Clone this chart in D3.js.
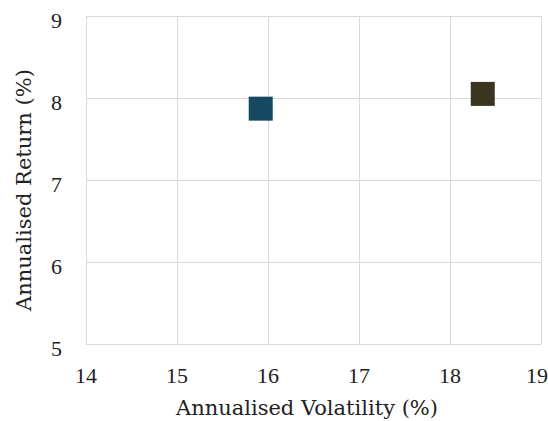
<!DOCTYPE html>
<html lang="en">
<head>
<meta charset="utf-8">
<script src="https://cdn.jsdelivr.net/npm/d3@7"></script>
<style>
  body { margin: 0; background: #fff; }
  .grid line { stroke: #d9d9d9; stroke-width: 1; }
  .grid path { display: none; }
  .lbl { font-family: "DejaVu Serif", serif; fill: #222; }
  .tick-lbl { font-family: "Liberation Serif", serif; fill: #222; font-size: 22px; }
</style>
</head>
<body>
<div id="chart"></div>
<script>
  // data
  const names = ['Fund A', 'Fund B']
  const volatility = [15.92, 18.36]
  const returns = [7.87, 8.05]
  const colours = ['#174a62', '#3a3420']
  const xTicks = [14, 15, 16, 17, 18, 19]
  const yTicks = [5, 6, 7, 8, 9]

  const w = 548, h = 421
  const padL = 86, padR = 541, padT = 16, padB = 344

  const svg = d3.select('#chart').append('svg')
      .attr('width', w)
      .attr('height', h)

  const x = d3.scaleLinear().domain([14, 19]).range([padL, padR])
  const y = d3.scaleLinear().domain([5, 9]).range([padB, padT])

  // gridlines
  svg.append('g')
      .attr('class', 'grid')
      .attr('transform', 'translate(0,' + padB + ')')
      .call(d3.axisBottom(x).tickValues(xTicks).tickSize(-(padB - padT)).tickFormat(''))

  svg.append('g')
      .attr('class', 'grid')
      .attr('transform', 'translate(' + padL + ',0)')
      .call(d3.axisLeft(y).tickValues(yTicks).tickSize(-(padR - padL)).tickFormat(''))

  // tick labels (last one pulled in so it stays on the page)
  svg.selectAll('text.xt')
      .data(xTicks)
      .enter()
      .append('text')
      .attr('class', 'tick-lbl xt')
      .attr('x', d => Math.min(x(d), w - 11))
      .attr('y', 383)
      .attr('text-anchor', 'middle')
      .text(d => d)

  svg.selectAll('text.yt')
      .data(yTicks)
      .enter()
      .append('text')
      .attr('class', 'tick-lbl yt')
      .attr('x', 62)
      .attr('y', d => y(d) + 12)
      .attr('text-anchor', 'end')
      .text(d => d)

  // axis titles
  svg.append('text')
      .attr('class', 'lbl')
      .attr('x', 307)
      .attr('y', 415)
      .attr('text-anchor', 'middle')
      .style('font-size', '21px')
      .text('Annualised Volatility (%)')

  svg.append('text')
      .attr('class', 'lbl')
      .attr('transform', 'translate(31,190) rotate(-90)')
      .attr('text-anchor', 'middle')
      .style('font-size', '21px')
      .text('Annualised Return (%)')

  // points
  const size = 24
  svg.selectAll('rect.pt')
      .data(names)
      .enter()
      .append('rect')
      .attr('class', 'pt')
      .attr('x', (d, i) => x(volatility[i]) - size / 2)
      .attr('y', (d, i) => y(returns[i]) - size / 2)
      .attr('width', size)
      .attr('height', size)
      .attr('fill', (d, i) => colours[i])
</script>
</body>
</html>
